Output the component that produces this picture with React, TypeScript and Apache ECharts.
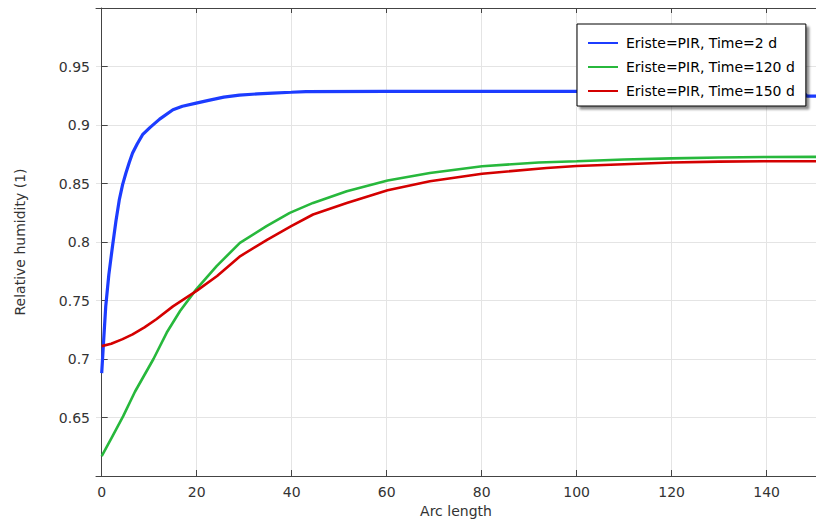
import React, { useEffect, useRef } from "react";
import * as echarts from "echarts";

const seriesNames = [
  "Eriste=PIR, Time=2 d",
  "Eriste=PIR, Time=120 d",
  "Eriste=PIR, Time=150 d",
];

const blueX = [0, 0.4, 0.85, 1.5, 2.26, 3, 3.7, 4.4, 5.1, 5.8, 6.5, 7.5, 8.6, 10.2, 12.2, 15, 17, 19.9, 22.5, 25.7, 29, 32.8, 36, 39.9, 43, 60, 100, 147.5, 148.5, 150.5];
const blueY = [0.688, 0.715, 0.745, 0.772, 0.796, 0.818, 0.836, 0.849, 0.859, 0.868, 0.876, 0.884, 0.8917, 0.898, 0.905, 0.913, 0.916, 0.9187, 0.921, 0.9238, 0.9255, 0.9266, 0.9273, 0.928, 0.9286, 0.9287, 0.9287, 0.9287, 0.9247, 0.9247];

const greenX = [0, 2, 4.5, 7, 10.9, 13.7, 16.5, 19.9, 24.2, 29.1, 34.7, 39.6, 44.5, 51.6, 60.2, 69.1, 80.1, 92, 100, 110, 120, 130, 140, 150.5];
const greenY = [0.617, 0.632, 0.651, 0.672, 0.7, 0.7226, 0.741, 0.7595, 0.7794, 0.7993, 0.8135, 0.8249, 0.8334, 0.8433, 0.8525, 0.859, 0.8647, 0.868, 0.869, 0.8705, 0.8715, 0.8722, 0.8727, 0.8728];

const redX = [0, 2, 4.4, 6.5, 9, 11.5, 15, 19.9, 24.3, 29.2, 34.9, 39.9, 44.5, 51.6, 60.2, 69.1, 80.1, 93.7, 100, 110, 120, 130, 140, 150.5];
const redY = [0.711, 0.713, 0.717, 0.721, 0.727, 0.734, 0.745, 0.758, 0.771, 0.788, 0.802, 0.8135, 0.8235, 0.8334, 0.8442, 0.8519, 0.8584, 0.8633, 0.865, 0.8665, 0.868, 0.8687, 0.869, 0.869];

const xTicks = [0, 20, 40, 60, 80, 100, 120, 140];
const colors = ["#1c3cff", "#27b83c", "#d40000"];

const pairs = (xs: number[], ys: number[]) => xs.map((x, i) => [x, ys[i]]);

export default function App() {
  const ref = useRef<HTMLDivElement>(null);
  useEffect(() => {
    if (!ref.current) return;
    const chart = echarts.init(ref.current, null, { renderer: "svg" });
    const font = "DejaVu Sans";
    chart.setOption({
      animation: false,
      textStyle: { fontFamily: font },
      grid: { left: 96, top: 8, right: 0, bottom: 46 },
      legend: {
        orient: "vertical",
        left: 577,
        top: 24,
        padding: [12, 11, 8, 10],
        itemGap: 10,
        itemWidth: 30,
        itemHeight: 14,
        textStyle: { fontFamily: font, fontSize: 14, color: "#000", padding: [0, 0, 0, 3] },
        backgroundColor: "#fff",
        borderColor: "#000",
        borderWidth: 1,
        borderRadius: 0,
        shadowColor: "rgba(0,0,0,0.45)",
        shadowBlur: 2,
        shadowOffsetX: 3,
        shadowOffsetY: 3,
        lineStyle: { width: 2 },
        itemStyle: { opacity: 0, borderWidth: 0 },
        data: seriesNames,
      },
      xAxis: [
        {
          type: "value",
          min: -1.2,
          max: 150.4,
          name: "Arc length",
          nameLocation: "middle",
          nameGap: 28,
          nameTextStyle: { fontFamily: font, fontSize: 14, color: "#333" },
          axisLine: { lineStyle: { color: "#444", width: 1 } },
          axisTick: { inside: true, length: 6, customValues: xTicks, lineStyle: { color: "#444" } },
          axisLabel: { customValues: xTicks, fontFamily: font, fontSize: 14, color: "#333", margin: 9 },
          splitLine: { show: true, lineStyle: { color: "#e4e4e4", width: 1 } },
        },
        {
          type: "value",
          position: "top",
          min: -1.2,
          max: 150.4,
          axisLine: { lineStyle: { color: "#444", width: 1 } },
          axisTick: { inside: true, length: 5, customValues: xTicks, lineStyle: { color: "#444" } },
          axisLabel: { show: false },
          splitLine: { show: false },
        },
      ],
      yAxis: {
        type: "value",
        min: 0.6,
        max: 1.0,
        interval: 0.05,
        name: "Relative humidity (1)",
        nameLocation: "middle",
        nameGap: 69,
        nameTextStyle: { fontFamily: font, fontSize: 14, color: "#333" },
        axisLine: { show: true, lineStyle: { color: "#444", width: 1 } },
        axisTick: { show: true, inside: true, length: 6, lineStyle: { color: "#444" } },
        axisLabel: {
          fontFamily: font,
          fontSize: 14,
          color: "#333",
          margin: 6,
          showMinLabel: false,
          showMaxLabel: false,
          formatter: (v: number) => String(parseFloat(v.toFixed(2))),
        },
        splitLine: { show: true, lineStyle: { color: "#e4e4e4", width: 1 } },
      },
      series: [
        { name: seriesNames[0], type: "line", data: pairs(blueX, blueY), symbol: "none", color: colors[0], lineStyle: { width: 3.2, color: colors[0] }, z: 2 },
        { name: seriesNames[1], type: "line", data: pairs(greenX, greenY), symbol: "none", color: colors[1], lineStyle: { width: 2.6, color: colors[1] }, z: 2 },
        { name: seriesNames[2], type: "line", data: pairs(redX, redY), symbol: "none", color: colors[2], lineStyle: { width: 2.6, color: colors[2] }, z: 2 },
      ],
    });
    return () => chart.dispose();
  }, []);
  return <div ref={ref} style={{ position: "fixed", left: 0, top: 0, width: 816, height: 523, background: "#fff" }} />;
}
